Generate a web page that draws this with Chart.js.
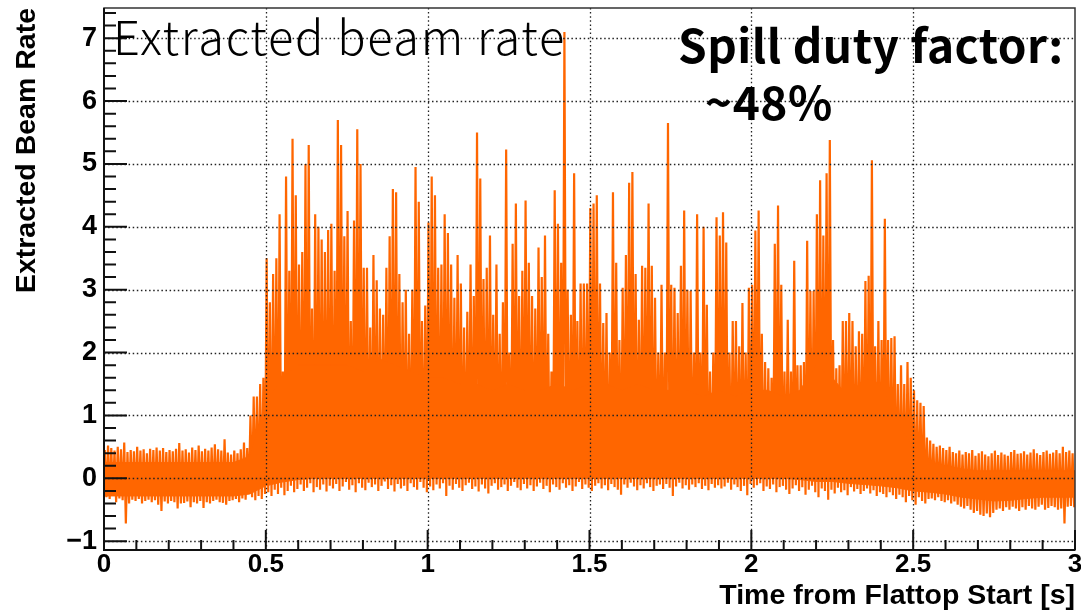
<!DOCTYPE html>
<html>
<head>
<meta charset="utf-8">
<script src="https://cdn.jsdelivr.net/npm/chart.js@4.4.1/dist/chart.umd.min.js"></script>
<style>
  html, body { margin: 0; padding: 0; background: #fff; }
  canvas { display: block; }
</style>
</head>
<body>
<canvas id="beamChart" width="1081" height="610"></canvas>
<script>
// 10 ms bins from flattop start, highest and lowest rate seen inside each bin
const binWidth = 0.01;
const rateMax = [
  0.45, 0.52, 0.48, 0.44, 0.50, 0.46, 0.57, 0.42, 0.45, 0.43,
  0.50, 0.44, 0.46, 0.40, 0.47, 0.45, 0.49, 0.44, 0.48, 0.42,
  0.45, 0.43, 0.47, 0.56, 0.44, 0.46, 0.41, 0.49, 0.45, 0.52,
  0.43, 0.47, 0.44, 0.49, 0.54, 0.46, 0.44, 0.62, 0.41, 0.38,
  0.44, 0.40, 0.46, 0.57, 0.48, 1.00, 1.30, 1.30, 1.50, 1.60,
  3.50, 2.80, 3.25, 3.50, 4.20, 1.70, 4.80, 3.30, 5.40, 4.50,
  3.40, 3.60, 5.00, 5.30, 2.70, 4.20, 4.00, 3.80, 3.60, 3.95,
  4.05, 3.30, 5.70, 5.30, 3.85, 4.25, 2.50, 4.10, 5.55, 5.00,
  3.35, 3.35, 2.40, 3.55, 3.15, 2.70, 2.60, 3.35, 3.85, 4.60,
  4.55, 3.25, 2.80, 3.00, 2.30, 3.00, 4.95, 4.40, 2.50, 2.75,
  4.07, 4.80, 4.50, 3.35, 3.40, 4.20, 3.90, 3.40, 2.87, 3.55,
  3.10, 2.40, 2.65, 3.40, 2.90, 5.50, 4.77, 3.17, 3.35, 3.86,
  2.60, 3.40, 2.30, 2.80, 5.23, 2.00, 3.73, 4.37, 2.90, 3.30,
  4.42, 3.43, 2.90, 2.70, 3.67, 3.20, 3.86, 2.30, 1.70, 4.58,
  4.05, 3.43, 7.10, 3.00, 2.60, 4.85, 2.50, 3.10, 3.10, 3.10,
  4.30, 4.37, 4.50, 3.10, 2.47, 2.63, 2.00, 4.55, 3.43, 2.20,
  3.03, 3.55, 4.70, 4.87, 3.25, 2.52, 3.38, 3.35, 4.37, 3.38,
  2.87, 2.00, 3.08, 2.00, 5.65, 3.08, 3.03, 2.63, 3.38, 4.26,
  3.00, 2.98, 2.00, 4.20, 2.00, 4.00, 2.76, 1.70, 2.00, 4.15,
  3.86, 4.23, 3.75, 2.00, 2.50, 2.50, 2.10, 2.79, 2.00, 3.03,
  3.08, 3.94, 4.26, 2.30, 1.85, 1.75, 1.60, 3.73, 4.34, 3.08,
  1.70, 2.52, 1.70, 3.46, 1.80, 1.80, 1.85, 3.78, 2.98, 2.98,
  4.20, 4.74, 3.86, 4.85, 5.38, 2.20, 1.75, 1.80, 2.50, 2.50,
  2.63, 2.50, 2.10, 2.34, 2.30, 3.14, 3.22, 5.06, 2.10, 2.50,
  2.20, 4.13, 2.20, 2.23, 2.26, 1.50, 1.80, 1.50, 1.85, 1.60,
  1.40, 1.24, 1.20, 1.15, 0.65, 0.60, 0.55, 0.50, 0.52, 0.48,
  0.45, 0.50, 0.42, 0.40, 0.44, 0.38, 0.42, 0.40, 0.45, 0.36,
  0.40, 0.43, 0.38, 0.35, 0.40, 0.44, 0.37, 0.41, 0.38, 0.36,
  0.42, 0.45, 0.39, 0.40, 0.43, 0.38, 0.41, 0.46, 0.40, 0.37,
  0.42, 0.44, 0.39, 0.41, 0.45, 0.40, 0.50, 0.42, 0.44, 0.40
];
const rateMin = [
  -0.30, -0.33, -0.28, -0.38, -0.32, -0.35, -0.72, -0.40, -0.34, -0.36,
  -0.33, -0.40, -0.36, -0.34, -0.38, -0.35, -0.42, -0.52, -0.37, -0.40,
  -0.36, -0.38, -0.48, -0.40, -0.39, -0.37, -0.46, -0.38, -0.40, -0.36,
  -0.47, -0.38, -0.40, -0.36, -0.34, -0.38, -0.39, -0.42, -0.36, -0.35,
  -0.33, -0.38, -0.32, -0.34, -0.25, -0.30, -0.35, -0.28, -0.33, -0.25,
  -0.22, -0.28, -0.18, -0.25, -0.15, -0.27, -0.20, -0.12, -0.22, -0.17,
  -0.10, -0.20, -0.15, -0.08, -0.22, -0.14, -0.18, -0.10, -0.21, -0.12,
  -0.16, -0.09, -0.20, -0.13, -0.06, -0.18, -0.11, -0.22, -0.08, -0.15,
  -0.19, -0.07, -0.14, -0.10, -0.20, -0.12, -0.05, -0.17, -0.11, -0.21,
  -0.09, -0.16, -0.12, -0.20, -0.08, -0.14, -0.18, -0.06, -0.15, -0.22,
  -0.13, -0.19, -0.10, -0.16, -0.08, -0.28, -0.12, -0.18, -0.09, -0.15,
  -0.20, -0.11, -0.07, -0.17, -0.13, -0.21, -0.10, -0.16, -0.24, -0.12,
  -0.08, -0.18, -0.14, -0.10, -0.20, -0.12, -0.06, -0.15, -0.19, -0.09,
  -0.16, -0.11, -0.20, -0.13, -0.07, -0.17, -0.12, -0.22, -0.10, -0.14,
  -0.18, -0.08, -0.15, -0.11, -0.20, -0.13, -0.06, -0.17, -0.10, -0.15,
  -0.20, -0.12, -0.08, -0.16, -0.11, -0.19, -0.09, -0.14, -0.18, -0.26,
  -0.10, -0.15, -0.07, -0.13, -0.19, -0.11, -0.16, -0.08, -0.14, -0.20,
  -0.12, -0.10, -0.17, -0.09, -0.15, -0.28, -0.13, -0.07, -0.16, -0.11,
  -0.18, -0.10, -0.14, -0.08, -0.17, -0.12, -0.19, -0.09, -0.15, -0.11,
  -0.16, -0.13, -0.07, -0.18, -0.10, -0.14, -0.20, -0.12, -0.27, -0.09,
  -0.15, -0.11, -0.08, -0.20, -0.13, -0.17, -0.10, -0.22, -0.14, -0.12,
  -0.18, -0.25, -0.16, -0.11, -0.20, -0.14, -0.26, -0.18, -0.12, -0.22,
  -0.30, -0.16, -0.20, -0.34, -0.18, -0.24, -0.15, -0.22, -0.19, -0.27,
  -0.14, -0.21, -0.17, -0.25, -0.20, -0.16, -0.24, -0.19, -0.28, -0.22,
  -0.25, -0.30, -0.22, -0.27, -0.33, -0.26, -0.30, -0.38, -0.28, -0.35,
  -0.42, -0.30, -0.36, -0.40, -0.33, -0.32, -0.35, -0.30, -0.36, -0.38,
  -0.35, -0.40, -0.37, -0.42, -0.45, -0.48, -0.44, -0.50, -0.55, -0.52,
  -0.58, -0.60, -0.56, -0.62, -0.55, -0.50, -0.48, -0.52, -0.46, -0.50,
  -0.45, -0.48, -0.52, -0.46, -0.50, -0.44, -0.48, -0.50, -0.45, -0.42,
  -0.50, -0.47, -0.44, -0.46, -0.50, -0.48, -0.72, -0.45, -0.44, -0.46
];

// solid part of the signal, every 50 ms
const bandStep = 0.05;
const bandTop = [
  0.25, 0.25, 0.25, 0.25, 0.25, 0.25, 0.25, 0.25, 0.25, 0.35,
  1.2, 1.6, 1.8, 1.8, 1.8, 1.8, 1.7, 1.9, 1.8, 1.7,
  1.6, 1.6, 1.5, 1.5, 1.4, 1.5, 1.4, 1.4, 1.5, 1.4,
  1.5, 1.5, 1.4, 1.5, 1.4, 1.4, 1.4, 1.3, 1.4, 1.3,
  1.4, 1.4, 1.3, 1.4, 1.8, 1.6, 1.3, 1.6, 1.5, 0.9,
  0.5, 0.25, 0.2, 0.15, 0.12, 0.12, 0.12, 0.12, 0.12, 0.12,
  0.12
];
const bandBottom = [
  -0.28, -0.28, -0.28, -0.28, -0.28, -0.28, -0.28, -0.28, -0.28, -0.25,
  -0.12, -0.06, -0.02, 0, 0, 0, 0, 0, 0, 0,
  0, 0, 0, 0, 0, 0, 0, 0, 0, 0,
  0, 0, 0, 0, 0, 0, 0, 0, 0, 0,
  0, 0, 0, -0.02, -0.05, -0.05, -0.08, -0.1, -0.12, -0.15,
  -0.2, -0.22, -0.25, -0.3, -0.33, -0.36, -0.35, -0.32, -0.3, -0.3,
  -0.3
];

const xTicks = [0, 0.5, 1, 1.5, 2, 2.5, 3];
const yTicks = [-1, 0, 1, 2, 3, 4, 5, 6, 7];

const orange = '#ff6600';
const fontFamily = '"Liberation Sans", Arial, sans-serif';
const titleFont = { family: fontFamily, size: 28.5, weight: 'bold', lineHeight: 1 };

// trace: up to the bin maximum, down to the bin minimum, bin after bin
const trace = [];
rateMax.forEach((hi, i) => {
  trace.push({ x: (i + 0.25) * binWidth, y: hi });
  trace.push({ x: (i + 0.75) * binWidth, y: rateMin[i] });
});
const bandTopPts = bandTop.map((v, i) => ({ x: i * bandStep, y: v }));
const bandBottomPts = bandBottom.map((v, i) => ({ x: i * bandStep, y: v }));

// dotted grid, frame and inward tick marks drawn on top of the data
const frameAndGrid = {
  id: 'frameAndGrid',
  afterDatasetsDraw(chart) {
    const { ctx, chartArea: a, scales: { x, y } } = chart;
    ctx.save();

    ctx.strokeStyle = '#222';
    ctx.lineWidth = 1.3;
    ctx.setLineDash([1.5, 2.6]);
    ctx.beginPath();
    xTicks.slice(1, -1).forEach(v => {
      const px = Math.round(x.getPixelForValue(v)) + 0.5;
      ctx.moveTo(px, a.top);
      ctx.lineTo(px, a.bottom);
    });
    yTicks.forEach(v => {
      const py = Math.round(y.getPixelForValue(v)) + 0.5;
      ctx.moveTo(a.left, py);
      ctx.lineTo(a.right, py);
    });
    ctx.stroke();
    ctx.setLineDash([]);

    ctx.strokeStyle = '#333';
    ctx.lineWidth = 1.5;
    ctx.strokeRect(a.left, a.top, a.right - a.left, a.bottom - a.top);

    ctx.strokeStyle = '#111';
    ctx.lineWidth = 2;
    ctx.beginPath();
    ctx.moveTo(a.left, a.top);
    ctx.lineTo(a.left, a.bottom);
    ctx.lineTo(a.right, a.bottom);
    // x: major every 0.5, minor every 0.1
    for (let k = 0; k <= 30; k++) {
      const px = x.getPixelForValue(k / 10);
      const len = k % 5 === 0 ? 20 : 10;
      ctx.moveTo(px, a.bottom);
      ctx.lineTo(px, a.bottom - len);
    }
    // y: major every 1, minor every 0.2
    for (let k = -5; k <= 37; k++) {
      const py = y.getPixelForValue(k / 5);
      const len = k % 5 === 0 ? 23 : 12;
      ctx.moveTo(a.left, py);
      ctx.lineTo(a.left + len, py);
    }
    ctx.stroke();
    ctx.restore();
  }
};

const notes = {
  id: 'notes',
  afterDraw(chart) {
    const ctx = chart.ctx;
    ctx.save();
    ctx.fillStyle = '#000';
    ctx.textBaseline = 'alphabetic';
    ctx.font = '300 47px "Noto Sans CJK JP", "Noto Sans", sans-serif';
    ctx.letterSpacing = '1.7px';
    ctx.fillText('Extracted beam rate', 113, 55);
    ctx.font = 'bold 46px "Noto Sans CJK JP", "Noto Sans", sans-serif';
    ctx.letterSpacing = '0.5px';
    ctx.fillText('Spill duty factor:', 678, 63);
    ctx.fillText('~48%', 705, 120);
    ctx.restore();
  }
};

new Chart(document.getElementById('beamChart'), {
  type: 'line',
  data: {
    datasets: [
      { data: bandBottomPts, borderColor: orange, borderWidth: 1, pointRadius: 0, fill: false },
      { data: bandTopPts, borderColor: orange, borderWidth: 1, pointRadius: 0, backgroundColor: orange, fill: '-1' },
      { data: trace, borderColor: orange, borderWidth: 2.2, pointRadius: 0, fill: false }
    ]
  },
  options: {
    responsive: false,
    animation: false,
    layout: { padding: { top: 8, right: 6, left: 0, bottom: 0 } },
    plugins: { legend: { display: false }, tooltip: { enabled: false } },
    scales: {
      x: {
        type: 'linear',
        min: 0,
        max: 3,
        grid: { display: false },
        border: { display: false },
        afterBuildTicks: s => { s.ticks = xTicks.map(v => ({ value: v })); },
        afterFit: s => { s.height = 60; s.paddingLeft = 0; s.paddingRight = 0; },
        ticks: {
          font: { family: fontFamily, size: 26, weight: 'bold', lineHeight: 1 },
          color: '#000', padding: -6, maxRotation: 0, autoSkip: false,
          callback: v => String(v)
        },
        title: { display: true, text: 'Time from Flattop Start [s]', align: 'end', font: titleFont, color: '#000', padding: { top: 1, bottom: 0 } }
      },
      y: {
        type: 'linear',
        min: -1.14,
        max: 7.48,
        grid: { display: false },
        border: { display: false },
        afterBuildTicks: s => { s.ticks = yTicks.map(v => ({ value: v })); },
        afterFit: s => { s.width = 104; s.paddingTop = 0; s.paddingBottom = 0; },
        ticks: {
          font: { family: fontFamily, size: 27, weight: 'bold' },
          color: '#000', padding: -1,
          callback: v => (v < 0 ? '\u2212' + Math.abs(v) : String(v))
        },
        title: { display: true, text: 'Extracted Beam Rate', align: 'end', font: titleFont, color: '#000', padding: { top: 13, bottom: 0 } }
      }
    }
  },
  plugins: [frameAndGrid, notes]
});
</script>
</body>
</html>
